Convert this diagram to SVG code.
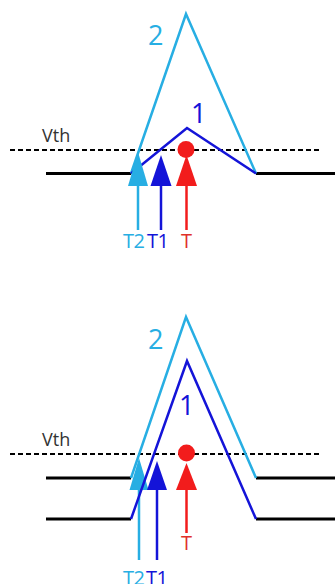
<svg xmlns="http://www.w3.org/2000/svg" width="335" height="584" viewBox="0 0 335 584">
<style>
.base{fill:none;stroke:#000;stroke-width:3}
.dash{fill:none;stroke:#000;stroke-width:2;stroke-dasharray:5,3}
.cy{fill:none;stroke:#27aee3;stroke-width:2.5;stroke-linejoin:miter}
.db{fill:none;stroke:#1414d8;stroke-width:2.5;stroke-linejoin:miter}
.txt{font-family:"Open Sans","Liberation Sans",sans-serif}
.vth{font-size:18px;fill:#333}
.big{font-size:27px}
.lab{font-size:20px;letter-spacing:-0.5px}
</style>
<rect width="335" height="584" fill="#fff"/>
<g id="panel-top">
  <g id="baseline-top">
    <path class="base" d="M46,173.5H131M256,173.5H335"/>
  </g>
  <g id="vth-top">
    <line class="dash" x1="10" y1="150" x2="320" y2="150"/>
    <text class="txt vth" x="42" y="142">Vth</text>
  </g>
  <g id="pulse2-top">
    <path class="cy" d="M131,173.5L186,14L256,173.5"/>
    <text class="txt big" x="148" y="45" fill="#27aee3">2</text>
  </g>
  <g id="pulse1-top">
    <path class="db" d="M131,173.5L187,128L256,173.5"/>
    <text class="txt big" x="191" y="123" fill="#1414d8">1</text>
  </g>
  <g id="connectors-top">
    <g id="arrow-T2-top">
      <line x1="138" y1="185" x2="138" y2="230" stroke="#27aee3" stroke-width="2.5"/>
      <polygon points="138,152 148,186 128,186" fill="#27aee3"/>
    </g>
    <g id="arrow-T1-top">
      <line x1="161" y1="185" x2="161" y2="230" stroke="#1414d8" stroke-width="2.5"/>
      <polygon points="161,155 171.5,186 150.5,186" fill="#1414d8"/>
    </g>
    <g id="arrow-T-top">
      <line x1="186.5" y1="185" x2="186.5" y2="230" stroke="#f21c1c" stroke-width="2.5"/>
      <polygon points="186.5,155 197,186 176,186" fill="#f21c1c"/>
      <circle cx="186" cy="149.5" r="8.5" fill="#f21c1c"/>
    </g>
  </g>
  <g id="labels-top">
    <text class="txt lab" x="123" y="248" fill="#27aee3">T2</text>
    <text class="txt lab" x="147" y="248" fill="#1414d8">T1</text>
    <text class="txt lab" x="181" y="248" fill="#e0302a">T</text>
  </g>
</g>
<g id="panel-bottom">
  <g id="baselines-bottom">
    <path class="base" d="M46,478H131M256,478H335"/>
    <path class="base" d="M46,519H131M256,519H335"/>
  </g>
  <g id="vth-bottom">
    <line class="dash" x1="10" y1="454" x2="320" y2="454"/>
    <text class="txt vth" x="42" y="446">Vth</text>
  </g>
  <g id="connectors-bottom">
    <g id="arrow-T2-bottom">
      <line x1="139" y1="489" x2="139" y2="560" stroke="#27aee3" stroke-width="2.5"/>
      <polygon points="139,458 148.5,490 129.5,490" fill="#27aee3"/>
    </g>
    <g id="arrow-T1-bottom">
      <line x1="157" y1="489" x2="157" y2="560" stroke="#1414d8" stroke-width="2.5"/>
      <polygon points="157,461 167,490 147,490" fill="#1414d8"/>
    </g>
    <g id="arrow-T-bottom">
      <line x1="186.5" y1="489" x2="186.5" y2="533" stroke="#f21c1c" stroke-width="2.5"/>
      <polygon points="186.5,463 197,490 176,490" fill="#f21c1c"/>
      <circle cx="186.5" cy="453" r="8.5" fill="#f21c1c"/>
    </g>
  </g>
  <g id="pulse2-bottom">
    <path class="cy" d="M131,478L186,317L256,478"/>
    <text class="txt big" x="148" y="349" fill="#27aee3">2</text>
  </g>
  <g id="pulse1-bottom">
    <path class="db" d="M131,519L187,361L256,519"/>
    <text class="txt big" x="179" y="415" fill="#1414d8">1</text>
  </g>
  <g id="labels-bottom">
    <text class="txt lab" x="123" y="585" fill="#27aee3">T2</text>
    <text class="txt lab" x="146" y="585" fill="#1414d8">T1</text>
    <text class="txt lab" x="181" y="550" fill="#e0302a">T</text>
  </g>
</g>
</svg>
